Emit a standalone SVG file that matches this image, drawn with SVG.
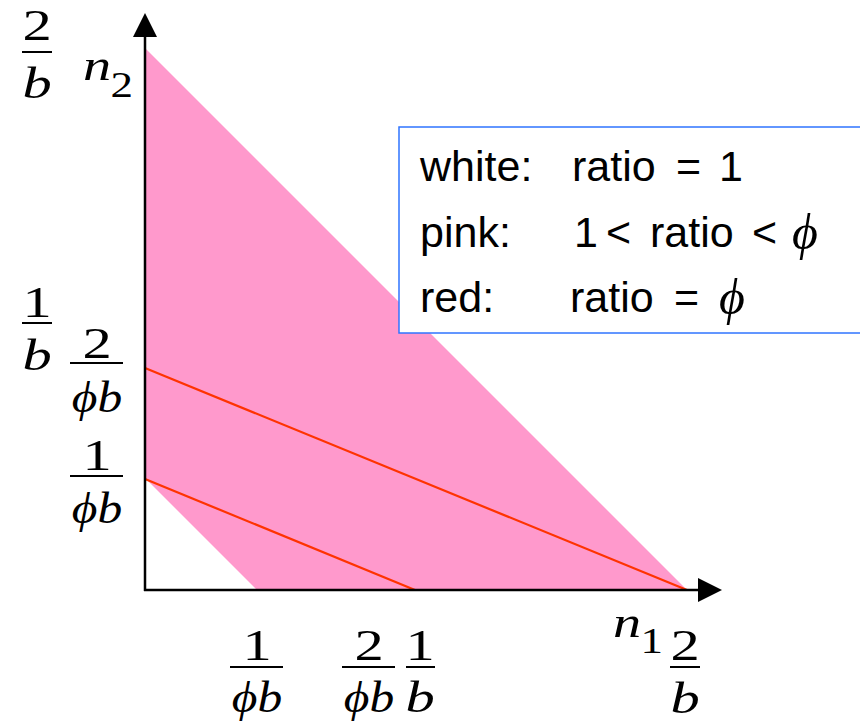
<svg xmlns="http://www.w3.org/2000/svg" width="860" height="728" viewBox="0 0 860 728">
<style>
.m{font-family:"Liberation Serif","Times New Roman",serif;font-size:45px;fill:#000;text-anchor:middle}
.i{font-style:italic}
.s{font-size:36px}
.l{text-anchor:start}
.bar{stroke:#000;stroke-width:2}
.lg{font-family:"Liberation Sans",Arial,sans-serif;font-size:43px;fill:#000}
.ph{font-family:"Liberation Serif","Times New Roman",serif;font-style:italic;font-size:50px;fill:#000}
.red{stroke:#ff3300;stroke-width:2.2;fill:none}
.ax{stroke:#000;stroke-width:2.5;fill:none}
</style>
<defs>
<marker id="arr" markerUnits="userSpaceOnUse" markerWidth="24" markerHeight="24" viewBox="0 0 22 22" refX="0" refY="11" orient="auto">
<path d="M0,0 L22,11 L0,22 Z" fill="#000"/>
</marker>
</defs>
<g id="region">
<polygon points="145,48 687,590 257,590 145,478" fill="#ff99cc"/>
</g>
<g id="connectors">
<line class="red" x1="145" y1="368" x2="687" y2="590"/>
<line class="red" x1="145" y1="479" x2="415" y2="590"/>
<line class="ax" x1="145" y1="591" x2="145" y2="37" marker-end="url(#arr)"/>
<line class="ax" x1="144" y1="590" x2="698" y2="590" marker-end="url(#arr)"/>
</g>
<g id="legend">
<rect x="399" y="127" width="480" height="206" fill="#fff" stroke="#2f74ff" stroke-width="1.5"/>
<text class="lg" x="420" y="181">white:</text>
<text class="lg" x="572" y="181">ratio</text>
<text class="lg" x="676" y="181">=</text>
<text class="lg" x="719" y="181">1</text>
<text class="lg" x="420" y="247">pink:</text>
<text class="lg" x="574" y="247">1</text>
<text class="lg" x="606" y="247">&lt;</text>
<text class="lg" x="650" y="247">ratio</text>
<text class="lg" x="752" y="247">&lt;</text>
<text class="ph" x="792" y="249">ϕ</text>
<text class="lg" x="420" y="312">red:</text>
<text class="lg" x="570" y="312">ratio</text>
<text class="lg" x="674" y="312">=</text>
<text class="ph" x="719" y="314">ϕ</text>
</g>
<g id="label-y-2b">
<g transform="translate(37,0) scale(1.3,1)">
<text class="m" x="0" y="40">2</text>
<text class="m i" x="0" y="98">b</text>
</g>
<line class="bar" x1="22" y1="52" x2="52" y2="52"/>
</g>
<g id="label-n2">
<g transform="translate(83,0) scale(1.25,1)">
<text class="m i l" x="0" y="80">n</text>
<text class="m s l" x="22" y="97">2</text>
</g>
</g>
<g id="label-y-1b">
<g transform="translate(37,0) scale(1.3,1)">
<text class="m" x="0" y="317">1</text>
<text class="m i" x="0" y="370">b</text>
</g>
<line class="bar" x1="22" y1="323" x2="52" y2="323"/>
</g>
<g id="label-y-2phib">
<g transform="translate(97,0) scale(1.3,1)"><text class="m" x="0" y="358">2</text></g>
<g transform="translate(97,0) scale(1.1,1)"><text class="m i" x="0" y="412">ϕb</text></g>
<line class="bar" x1="70" y1="363" x2="123" y2="363"/>
</g>
<g id="label-y-1phib">
<g transform="translate(97,0) scale(1.3,1)"><text class="m" x="0" y="470">1</text></g>
<g transform="translate(97,0) scale(1.1,1)"><text class="m i" x="0" y="523">ϕb</text></g>
<line class="bar" x1="70" y1="476" x2="123" y2="476"/>
</g>
<g id="label-x-1phib">
<g transform="translate(257,0) scale(1.3,1)"><text class="m" x="0" y="660">1</text></g>
<g transform="translate(257,0) scale(1.1,1)"><text class="m i" x="0" y="712">ϕb</text></g>
<line class="bar" x1="230" y1="667" x2="283" y2="667"/>
</g>
<g id="label-x-2phib">
<g transform="translate(369,0) scale(1.3,1)"><text class="m" x="0" y="660">2</text></g>
<g transform="translate(369,0) scale(1.1,1)"><text class="m i" x="0" y="712">ϕb</text></g>
<line class="bar" x1="342" y1="667" x2="395" y2="667"/>
</g>
<g id="label-x-1b">
<g transform="translate(420,0) scale(1.3,1)">
<text class="m" x="0" y="660">1</text>
<text class="m i" x="0" y="712">b</text>
</g>
<line class="bar" x1="406" y1="667" x2="435" y2="667"/>
</g>
<g id="label-n1">
<g transform="translate(613,0) scale(1.25,1)">
<text class="m i l" x="0" y="637">n</text>
<text class="m s l" x="22" y="653">1</text>
</g>
</g>
<g id="label-x-2b">
<g transform="translate(685,0) scale(1.3,1)">
<text class="m" x="0" y="660">2</text>
<text class="m i" x="0" y="713">b</text>
</g>
<line class="bar" x1="670" y1="667" x2="700" y2="667"/>
</g>
</svg>
